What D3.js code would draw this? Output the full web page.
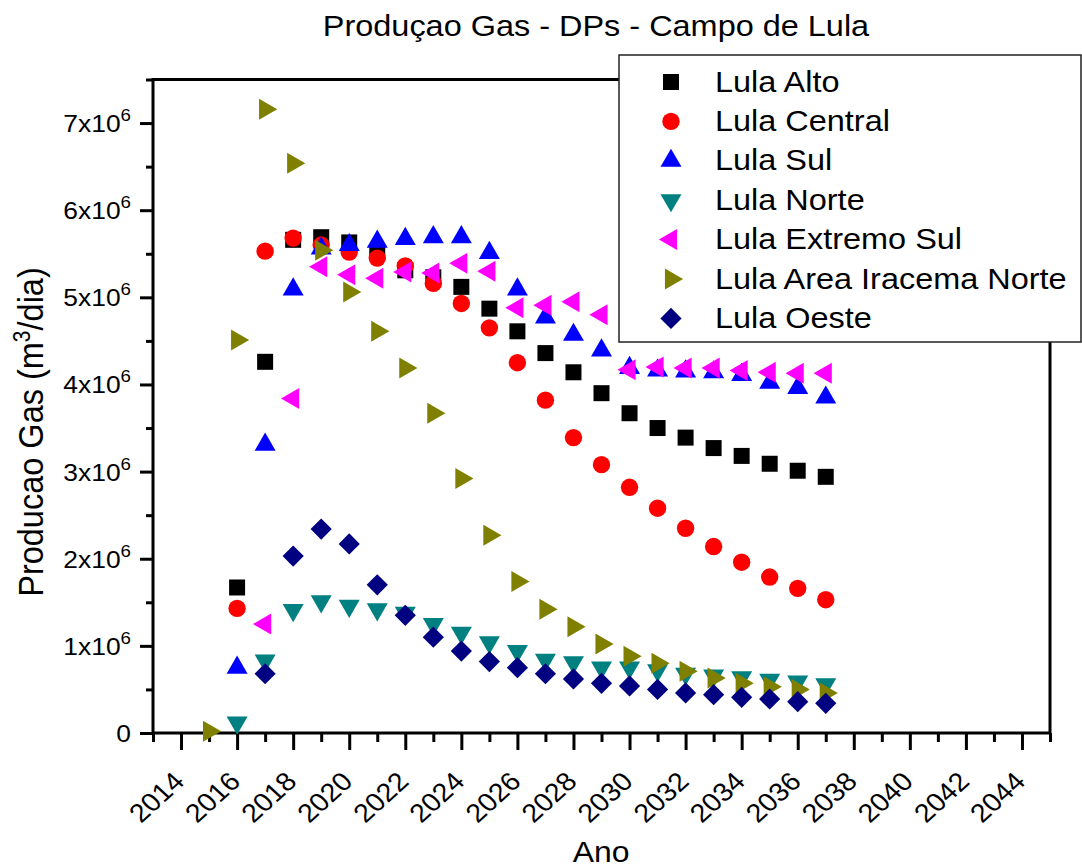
<!DOCTYPE html>
<html>
<head>
<meta charset="utf-8">
<script src="https://cdn.jsdelivr.net/npm/d3@7"></script>
<style>
  body { margin: 0; background: #fff; }
  svg { display: block; font-family: "Liberation Sans", Arial, sans-serif; }
</style>
</head>
<body>
<svg id="chart" width="1082" height="868"></svg>
<script>
// Annual gas production per DP, in millions of m³/dia (null = no production that year)
const years = [2015, 2016, 2017, 2018, 2019, 2020, 2021, 2022, 2023, 2024, 2025, 2026,
               2027, 2028, 2029, 2030, 2031, 2032, 2033, 2034, 2035, 2036, 2037];

const lulaAlto = [null, 1.67, 4.26, 5.66, 5.69, 5.63, 5.52, 5.31, 5.23, 5.12, 4.87, 4.61,
                  4.36, 4.14, 3.90, 3.67, 3.50, 3.39, 3.27, 3.18, 3.09, 3.01, 2.94];
const lulaCentral = [null, 1.43, 5.53, 5.68, 5.60, 5.52, 5.45, 5.36, 5.16, 4.93, 4.65, 4.25,
                     3.82, 3.39, 3.08, 2.82, 2.58, 2.35, 2.14, 1.96, 1.79, 1.66, 1.53];
const lulaSul = [null, 0.75, 3.31, 5.09, 5.56, 5.60, 5.64, 5.67, 5.69, 5.69, 5.51, 5.09,
                 4.77, 4.57, 4.39, 4.19, 4.16, 4.15, 4.14, 4.11, 4.02, 3.96, 3.85];
const lulaNorte = [null, 0.12, 0.83, 1.41, 1.51, 1.46, 1.42, 1.38, 1.25, 1.15, 1.04, 0.94,
                   0.84, 0.81, 0.75, 0.75, 0.72, 0.68, 0.66, 0.64, 0.61, 0.59, 0.56];
const lulaExtremoSul = [null, null, 1.25, 3.84, 5.35, 5.26, 5.22, 5.29, 5.28, 5.39, 5.30, 4.88,
                        4.91, 4.95, 4.80, 4.17, 4.20, 4.19, 4.19, 4.16, 4.14, 4.13, 4.13];
const lulaIracemaNorte = [0.02, 4.51, 7.16, 6.54, 5.54, 5.06, 4.61, 4.19, 3.67, 2.92, 2.27, 1.74,
                          1.42, 1.22, 1.02, 0.88, 0.80, 0.71, 0.63, 0.57, 0.53, 0.50, 0.46];
const lulaOeste = [null, null, 0.68, 2.03, 2.34, 2.17, 1.70, 1.35, 1.10, 0.94, 0.82, 0.75,
                   0.68, 0.62, 0.57, 0.54, 0.50, 0.46, 0.44, 0.41, 0.39, 0.36, 0.34];

const seriesNames = ["Lula Alto", "Lula Central", "Lula Sul", "Lula Norte",
                     "Lula Extremo Sul", "Lula Area Iracema Norte", "Lula Oeste"];
const seriesValues = [lulaAlto, lulaCentral, lulaSul, lulaNorte,
                      lulaExtremoSul, lulaIracemaNorte, lulaOeste];
const seriesColors = ["#000000", "#ff0000", "#0000ff", "#008080",
                      "#ff00ff", "#808000", "#000080"];

const xMajorTicks = d3.range(2014, 2045, 2);
const xMinorTicks = d3.range(2013, 2046, 2);
const yMajorTicks = [0, 1, 2, 3, 4, 5, 6, 7];
const yMinorTicks = [0.5, 1.5, 2.5, 3.5, 4.5, 5.5, 6.5, 7.5];

const titleText = "Produçao Gas - DPs - Campo de Lula";
const xTitle = "Ano";

// ---- layout ----
const svg = d3.select("#chart");
const plot = { left: 153, right: 1050, top: 79.5, bottom: 733 };
const SX = 1.1; // horizontal widening applied to all text

const x = d3.scaleLinear().domain([2013, 2045]).range([plot.left, plot.right]);
const y = d3.scaleLinear().domain([0, 7.5]).range([plot.bottom, plot.top]);

// marker shapes (triangles centred on their centroid, diamond = square turned 45°)
const triSize = Math.sqrt(3) / 4 * 21 * 21;
const markers = [
  { type: d3.symbolSquare, size: 16 * 16, rot: 0 },
  { type: d3.symbolCircle, size: Math.PI * 8.7 * 8.7, rot: 0 },
  { type: d3.symbolTriangle, size: triSize, rot: 0 },
  { type: d3.symbolTriangle, size: triSize, rot: 180 },
  { type: d3.symbolTriangle, size: triSize, rot: -90 },
  { type: d3.symbolTriangle, size: triSize, rot: 90 },
  { type: d3.symbolSquare, size: 15 * 15, rot: 45 }
];

function wideText(parent, tx, ty, rot) {
  return parent.append("g")
    .attr("transform", `translate(${tx},${ty}) scale(${SX},1)` + (rot ? ` rotate(${rot})` : ""))
    .append("text");
}

// ---- frame ----
svg.append("rect")
  .attr("x", plot.left).attr("y", plot.top)
  .attr("width", plot.right - plot.left).attr("height", plot.bottom - plot.top)
  .attr("fill", "none").attr("stroke", "#000").attr("stroke-width", 3);

// ---- axes ----
function styleAxis(g) {
  g.select(".domain").remove();
  g.selectAll(".tick line").attr("stroke", "#000").attr("stroke-width", 3);
  g.selectAll(".tick text").remove();
}

svg.append("g").attr("transform", `translate(0,${plot.bottom})`)
  .call(d3.axisBottom(x).tickValues(xMinorTicks).tickSize(9).tickSizeOuter(0))
  .call(styleAxis);
svg.append("g").attr("transform", `translate(0,${plot.bottom})`)
  .call(d3.axisBottom(x).tickValues(xMajorTicks).tickSize(17).tickSizeOuter(0))
  .call(styleAxis);

svg.append("g").attr("transform", `translate(${plot.left},0)`)
  .call(d3.axisLeft(y).tickValues(yMinorTicks).tickSize(7).tickSizeOuter(0))
  .call(styleAxis);
svg.append("g").attr("transform", `translate(${plot.left},0)`)
  .call(d3.axisLeft(y).tickValues(yMajorTicks).tickSize(13).tickSizeOuter(0))
  .call(styleAxis);

// x tick labels, rotated
xMajorTicks.forEach(v => {
  wideText(svg, x(v) + 5, plot.bottom + 50, -45)
    .attr("text-anchor", "end")
    .attr("font-size", 26)
    .attr("fill", "#000")
    .text(v);
});

// y tick labels, "n x 10^6"
yMajorTicks.forEach(v => {
  const t = wideText(svg, 131, y(v) + 9)
    .attr("text-anchor", "end")
    .attr("font-size", 24)
    .attr("fill", "#000");
  if (v === 0) {
    t.text("0");
  } else {
    t.append("tspan").text(`${v}x10`);
    t.append("tspan").attr("font-size", 17).attr("dy", -11).text("6");
  }
});

// ---- titles ----
wideText(svg, 596, 36)
  .attr("text-anchor", "middle").attr("font-size", 29.5).attr("fill", "#000")
  .text(titleText);

wideText(svg, 601, 862)
  .attr("text-anchor", "middle").attr("font-size", 29).attr("fill", "#000")
  .text(xTitle);

const yt = wideText(svg, 43, 432, -90)
  .attr("text-anchor", "middle").attr("font-size", 32.5).attr("fill", "#000");
yt.append("tspan").text("Producao Gas (m");
yt.append("tspan").attr("font-size", 21).attr("dy", -12).text("3");
yt.append("tspan").attr("dy", 12).text("/dia)");

// ---- data points ----
const symbolGen = d3.symbol();
seriesValues.forEach((vals, i) => {
  const m = markers[i];
  const pts = years.map((yr, j) => ({ yr, v: vals[j] })).filter(d => d.v != null);
  svg.append("g")
    .selectAll("path")
    .data(pts)
    .join("path")
    .attr("transform", d => `translate(${x(d.yr)},${y(d.v)}) rotate(${m.rot})`)
    .attr("d", symbolGen.type(m.type).size(m.size)())
    .attr("fill", seriesColors[i]);
});

// ---- legend ----
const legend = svg.append("g");
legend.append("rect")
  .attr("x", 619).attr("y", 55).attr("width", 462).attr("height", 287)
  .attr("fill", "#fff").attr("stroke", "#222").attr("stroke-width", 1.5);

seriesNames.forEach((name, i) => {
  const cy = 82 + i * 39.4;
  const m = markers[i];
  legend.append("path")
    .attr("transform", `translate(671,${cy}) rotate(${m.rot})`)
    .attr("d", symbolGen.type(m.type).size(m.size)())
    .attr("fill", seriesColors[i]);
  wideText(legend, 715, cy + 9.5)
    .attr("font-size", 29.5).attr("fill", "#000")
    .text(name);
});
</script>
</body>
</html>
